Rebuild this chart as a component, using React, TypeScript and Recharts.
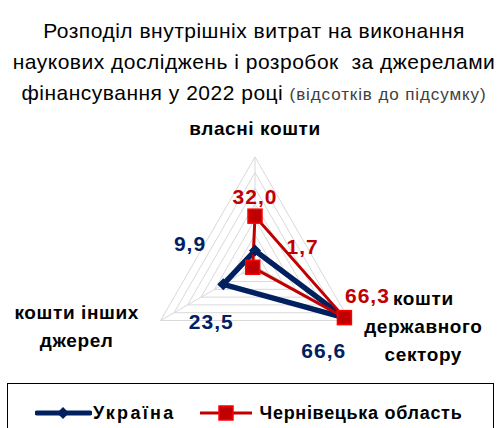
import { RadarChart, Radar, PolarGrid, PolarAngleAxis, PolarRadiusAxis, Legend } from 'recharts'

const categories = ['власні кошти', 'кошти державного сектору', 'кошти інших джерел']
const categoryLines = [['власні кошти'], ['кошти', 'державного', 'сектору'], ['кошти інших', 'джерел']]
const ukraineValues = [9.9, 66.6, 23.5]
const chernivtsiValues = [32.0, 66.3, 1.7]
const radiusTicks = [0, 10, 20, 30, 40, 50, 60, 70]

const data = categories.map((name, i) => ({
  name,
  ukraine: ukraineValues[i],
  chernivtsi: chernivtsiValues[i],
}))

const FONT = '"Liberation Sans", Arial, sans-serif'
const BLUE = '#002060'
const RED = '#c00000'

// label offsets from the point / axis tick (pixels)
const ukraineLabelOffsets = [[-65, 0], [-21, 40], [-12, 45]]
const chernivtsiLabelOffsets = [[0, -12], [23, -15], [50, -13]]
const axisLabelPos = [
  { dx: 0, dy: -14, lh: 28 },
  { dx: 67, dy: -20, lh: 28 },
  { dx: -77, dy: -6, lh: 28 },
]

const fmt = (v: number) => v.toFixed(1).replace('.', ',')

const makeLabel = (offsets: number[][], color: string) => (props: any) => {
  const { x, y, value, index } = props
  const [dx, dy] = offsets[index] || [0, 0]
  return (
    <text x={x + dx} y={y + dy} textAnchor="middle" fill={color}
      fontFamily={FONT} fontWeight="bold" fontSize={21} letterSpacing={1}>
      {fmt(Number(value))}
    </text>
  )
}

const AxisTick = (props: any) => {
  const { x, y, index } = props
  const pos = axisLabelPos[index]
  const lines = categoryLines[index]
  return (
    <text x={x + pos.dx} y={y + pos.dy} textAnchor="middle" fill="#000"
      fontFamily={FONT} fontWeight="bold" fontSize={19} letterSpacing={0.6}>
      {lines.map((l, i) => (
        <tspan key={i} x={x + pos.dx} dy={i === 0 ? 0 : pos.lh}>{l}</tspan>
      ))}
    </text>
  )
}

const SquareDot = (props: any) => {
  const { cx, cy } = props
  return <rect x={cx - 7} y={cy - 7} width={14} height={14} fill={RED} stroke="#ff0000" strokeWidth={1.5} />
}

const DiamondDot = (props: any) => {
  const { cx, cy } = props
  return <path d={`M${cx},${cy - 6}L${cx + 6},${cy}L${cx},${cy + 6}L${cx - 6},${cy}Z`} fill={BLUE} />
}

const LegendBox = () => (
  <div style={{
    boxSizing: 'border-box', width: 487, height: 60, border: '1.5px solid #000',
    fontFamily: FONT, fontWeight: 'bold', fontSize: 18, color: '#000',
    display: 'flex', alignItems: 'center',
  }}>
    <svg width={57} height={14} style={{ marginLeft: 27 }}>
      <line x1={2} y1={7} x2={55} y2={7} stroke={BLUE} strokeWidth={5} strokeLinecap="round" />
      <path d="M28,1L34,7L28,13L22,7Z" fill={BLUE} />
    </svg>
    <span style={{ marginLeft: 1, letterSpacing: 2.3 }}>Україна</span>
    <svg width={52} height={16} style={{ marginLeft: 24 }}>
      <line x1={0} y1={8} x2={52} y2={8} stroke={RED} strokeWidth={3} />
      <rect x={19} y={1} width={14} height={14} fill={RED} stroke="#ff0000" strokeWidth={1.5} />
    </svg>
    <span style={{ marginLeft: 8, letterSpacing: 0.7 }}>Чернівецька область</span>
  </div>
)

export default function App() {
  return (
    <div style={{ position: 'relative', width: 504, height: 428, background: '#fff', overflow: 'hidden' }}>
      <style>{'body{margin:0}'}</style>
      <div style={{
        position: 'absolute', top: 15, left: 0, width: 508, textAlign: 'center',
        fontFamily: FONT, fontSize: 21, letterSpacing: 0.5, lineHeight: '31px', color: '#000',
        whiteSpace: 'nowrap',
      }}>
        <div>Розподіл внутрішніх витрат на виконання</div>
        <div>наукових досліджень і розробок&nbsp; за джерелами</div>
        <div>фінансування у 2022 році <span style={{ fontSize: 17, letterSpacing: 0.9, color: '#404040' }}>(відсотків до підсумку)</span></div>
      </div>
      <RadarChart width={504} height={428} data={data} cx={255} cy={266} outerRadius={109}
        startAngle={90} endAngle={-270} margin={{ top: 0, right: 0, bottom: 0, left: 0 }}
        style={{ position: 'absolute', top: 0, left: 0 }}>
        <PolarGrid gridType="polygon" stroke="#d9d9d9" strokeWidth={1} polarRadius={radiusTicks.map(t => (t / 70) * 109)} />
        <PolarAngleAxis dataKey="name" tick={<AxisTick />} tickLine={false} axisLine={false} />
        <PolarRadiusAxis domain={[0, 70]} ticks={radiusTicks} tick={false} axisLine={false} />
        <Radar name="Україна" dataKey="ukraine" stroke={BLUE} strokeWidth={5.5} fill="none"
          dot={<DiamondDot />} isAnimationActive={false} label={makeLabel(ukraineLabelOffsets, BLUE)} />
        <Radar name="Чернівецька область" dataKey="chernivtsi" stroke={RED} strokeWidth={3} fill="none"
          dot={<SquareDot />} isAnimationActive={false} label={makeLabel(chernivtsiLabelOffsets, RED)} />
        <Legend content={<LegendBox />} wrapperStyle={{ position: 'absolute', left: 7, top: 383, width: 487 }} />
      </RadarChart>
    </div>
  )
}
